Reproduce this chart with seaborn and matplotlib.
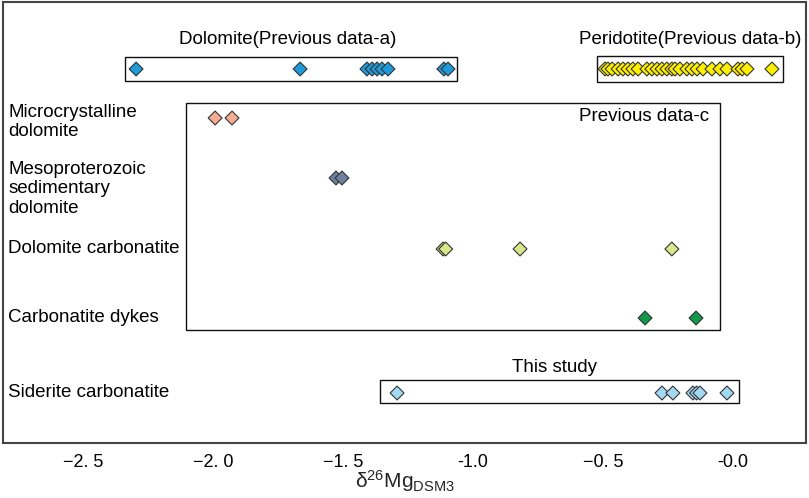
import pandas as pd
import seaborn as sns
import matplotlib.pyplot as plt
from matplotlib.patches import Rectangle

# delta26Mg values, one list per group
dolomite_a = [-2.296, -1.665, -1.408, -1.388, -1.369, -1.350, -1.327, -1.112, -1.096]
peridotite_b = [-0.492, -0.481, -0.465, -0.442, -0.423, -0.404, -0.385, -0.365,
                -0.331, -0.312, -0.292, -0.273, -0.254, -0.235, -0.223, -0.204,
                -0.177, -0.158, -0.138, -0.115, -0.081, -0.050, -0.023, 0.019,
                0.035, 0.054, 0.150]
microcrystalline = [-1.992, -1.927]
mesoproterozoic = [-1.527, -1.504]
dolomite_carbonatite = [-1.115, -1.105, -0.819, -0.235]
carbonatite_dykes = [-0.338, -0.142]
siderite_carbonatite = [-1.292, -0.273, -0.231, -0.154, -0.140, -0.127, -0.023]

groups = ['Dolomite(Previous data-a)', 'Peridotite(Previous data-b)',
          'Microcrystalline dolomite', 'Mesoproterozoic sedimentary dolomite',
          'Dolomite carbonatite', 'Carbonatite dykes', 'Siderite carbonatite']
values = [dolomite_a, peridotite_b, microcrystalline, mesoproterozoic,
          dolomite_carbonatite, carbonatite_dykes, siderite_carbonatite]

tick_values = [-2.5, -2.0, -1.5, -1.0, -0.5, 0.0]
tick_labels = ['\u22122. 5', '\u22122. 0', '\u22121. 5', '-1.0', '\u22120. 5', '-0.0']

# layout: vertical row positions (axis runs top -> bottom)
row_y = [69, 69, 118, 178, 249, 318, 393]
colors = ['#1f9ad8', '#fff000', '#f4ad92', '#6e819e', '#d9e68c', '#119a4a', '#a3d8f3']

rows = []
for g, vals, y in zip(groups, values, row_y):
    for v in vals:
        rows.append({'group': g, 'value': v, 'y': y})
df = pd.DataFrame(rows)

sns.set_style('white')
plt.rcParams['font.family'] = ['Liberation Sans', 'DejaVu Sans']
plt.rcParams['mathtext.fontset'] = 'custom'
plt.rcParams['mathtext.rm'] = 'Liberation Sans'
plt.rcParams['mathtext.it'] = 'Liberation Sans'
plt.rcParams['text.color'] = 'black'
plt.rcParams['xtick.color'] = 'black'

fig = plt.figure(figsize=(8.09, 4.98), dpi=100)
ax = fig.add_axes([3 / 809, 1 - 443 / 498, 803 / 809, 441 / 498])

sns.scatterplot(data=df, x='value', y='y', hue='group', palette=dict(zip(groups, colors)),
                marker='D', s=50, edgecolor='#333333', linewidth=0.8,
                legend=False, ax=ax, zorder=3)

ax.set_xlim(-2.808, 0.281)
ax.set_ylim(443, 2)

# group boxes
boxes = [(-2.338, 57, -1.062, 81), (-0.523, 56, 0.192, 82),
         (-2.104, 103, -0.050, 330), (-1.358, 380, 0.023, 403)]
for x0, y0, x1, y1 in boxes:
    ax.add_patch(Rectangle((x0, y0), x1 - x0, y1 - y0, fill=False,
                           edgecolor='#111111', linewidth=1.0, zorder=2))

FS = 13.5
ax.text(-1.712, 40, 'Dolomite(Previous data-a)', ha='center', va='center', fontsize=FS)
ax.text(-0.165, 40, 'Peridotite(Previous data-b)', ha='center', va='center', fontsize=FS)
ax.text(-0.092, 117, 'Previous data-c', ha='right', va='center', fontsize=FS)
ax.text(-0.688, 368, 'This study', ha='center', va='center', fontsize=FS)

# row labels on the left
left_labels = [('Microcrystalline\ndolomite', 122), ('Mesoproterozoic\nsedimentary\ndolomite', 189),
               ('Dolomite carbonatite', 249), ('Carbonatite dykes', 318),
               ('Siderite carbonatite', 393)]
for lab, y in left_labels:
    ax.text(-2.788, y, lab, ha='left', va='center', fontsize=FS, linespacing=1.2)

ax.set_xticks(tick_values)
ax.set_xticklabels(tick_labels, fontsize=13)
ax.set_yticks([])
ax.tick_params(axis='x', direction='in', length=6, width=1.2, color='#444444', pad=8)
ax.set_xlabel('\u03b4$^{26}$Mg$_{\\mathregular{DSM3}}$', fontsize=15, labelpad=-2)
ax.set_ylabel('')

for sp in ax.spines.values():
    sp.set_color('#444444')
    sp.set_linewidth(1.5)

plt.savefig('out.png', dpi=100)
